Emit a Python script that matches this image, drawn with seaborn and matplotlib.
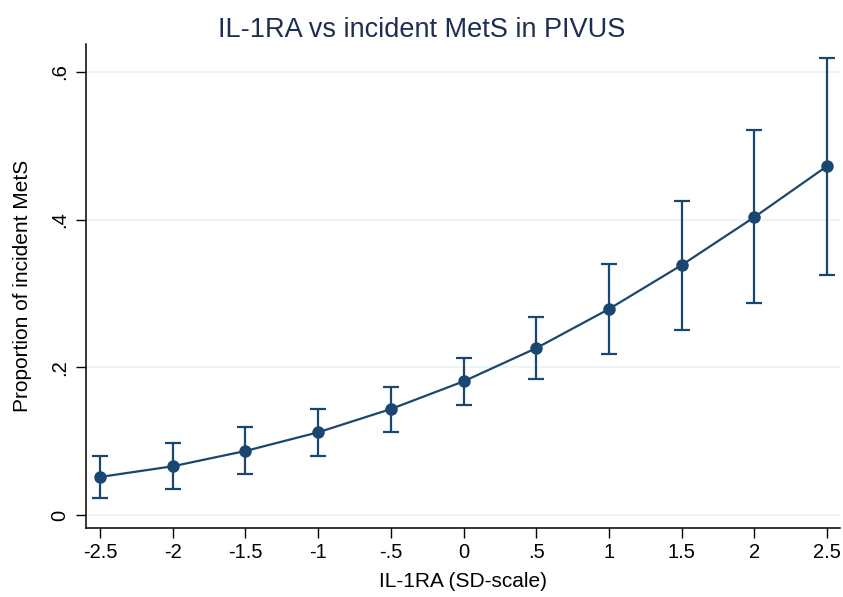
import matplotlib
matplotlib.use("Agg")
import matplotlib.pyplot as plt
import seaborn as sns
import pandas as pd
import numpy as np

il1ra_sd = [-2.5, -2, -1.5, -1, -0.5, 0, 0.5, 1, 1.5, 2, 2.5]
proportion = [0.0515, 0.066, 0.0867, 0.112, 0.1435, 0.181, 0.226, 0.279, 0.3385, 0.4035, 0.4726]
ci_upper = [0.080, 0.0975, 0.119, 0.1435, 0.173, 0.2126, 0.268, 0.340, 0.425, 0.521, 0.619]
ci_lower = [0.023, 0.035, 0.0555, 0.080, 0.112, 0.149, 0.184, 0.218, 0.2505, 0.287, 0.325]
x_ticks = [-2.5, -2, -1.5, -1, -0.5, 0, 0.5, 1, 1.5, 2, 2.5]
x_ticklabels = ["-2.5", "-2", "-1.5", "-1", "-.5", "0", ".5", "1", "1.5", "2", "2.5"]
y_ticks = [0, 0.2, 0.4, 0.6]
y_ticklabels = ["0", ".2", ".4", ".6"]

df = pd.DataFrame({"x": il1ra_sd, "y": proportion, "lo": ci_lower, "hi": ci_upper})

sns.set_style("white")
plt.rcParams["font.family"] = ["Liberation Sans", "DejaVu Sans"]

navy = "#1a476f"
fig = plt.figure(figsize=(8.43, 5.97), dpi=100)
ax = fig.add_axes([86 / 843, 1 - 528 / 597, (840 - 86) / 843, (528 - 44) / 597])

for yt in y_ticks:
    ax.axhline(yt, color="#eaf2f3", lw=1.2, zorder=0)

yerr = np.array([df["y"] - df["lo"], df["hi"] - df["y"]])
ax.errorbar(df["x"], df["y"], yerr=yerr, fmt="none", ecolor=navy, elinewidth=1.6,
            capsize=6, capthick=1.6, zorder=2)
sns.lineplot(data=df, x="x", y="y", ax=ax, color=navy, lw=1.6, marker="o",
             markersize=9, markeredgewidth=0, zorder=3)

ax.set_xlim(-2.596, 2.589)
ax.set_ylim(-0.0176, 0.638)
ax.set_xticks(x_ticks)
ax.set_xticklabels(x_ticklabels)
ax.set_yticks(y_ticks)
ax.set_yticklabels(y_ticklabels, rotation=90, va="center")
ax.tick_params(axis="both", which="major", direction="out", length=7, width=1,
               color="black", labelsize=14.5, labelcolor="black",
               left=True, bottom=True)
ax.tick_params(axis="x", pad=4)
ax.tick_params(axis="y", pad=5)
for s in ["top", "right"]:
    ax.spines[s].set_visible(False)
for s in ["left", "bottom"]:
    ax.spines[s].set_color("black")
    ax.spines[s].set_linewidth(1.1)

ax.set_xlabel("IL-1RA (SD-scale)", fontsize=15, color="black", labelpad=7)
ax.set_ylabel("Proportion of incident MetS", fontsize=15, color="black", labelpad=13)
fig.suptitle("IL-1RA vs incident MetS in PIVUS", fontsize=19.5, color="#1e2e52", y=0.972)

fig.savefig("out.png", dpi=100)
